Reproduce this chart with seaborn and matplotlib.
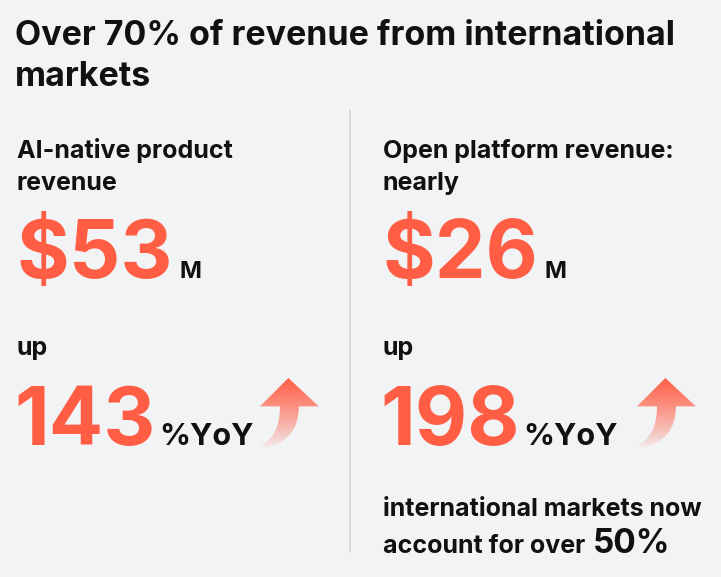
import numpy as np
import matplotlib.pyplot as plt
import seaborn as sns
from matplotlib.path import Path
from matplotlib.patches import PathPatch
from matplotlib.colors import to_rgb

# content
TITLE_LINES = ["Over 70% of revenue from international", "markets"]
PANEL_LABELS = [["AI-native product", "revenue"], ["Open platform revenue:", "nearly"]]
REVENUE = ["$53", "$26"]
REVENUE_UNIT = "M"
GROWTH_LABEL = "up"
GROWTH_YOY = [143, 198]
GROWTH_UNIT = "%YoY"
NOTE_LINES = ["international markets now", "account for over "]
NOTE_SHARE = "50%"

BG = "#f2f3f5"
ACCENT = "#ff5e45"
INK = "#111111"
FONT = ["Inter", "DejaVu Sans"]

sns.set_theme(style="white")
plt.rcParams["font.family"] = FONT

fig = plt.figure(figsize=(7.21, 5.77), dpi=100)
fig.patch.set_facecolor(BG)
ax = fig.add_axes([0, 0, 1, 1])
ax.set_facecolor(BG)
ax.set_xlim(0, 721)
ax.set_ylim(577, 0)
ax.axis("off")

renderer = fig.canvas.get_renderer()


def right_edge(t):
    bb = t.get_window_extent(renderer=renderer)
    return ax.transData.inverted().transform((bb.x1, bb.y0))[0]


def arrow(x0, y0, s=1.0):
    # curved up arrow with a fading fill
    pts = [(27, 0), (56, 27), (37, 27),
           (37, 50), (25, 62), (5, 67),
           (1, 64),
           (12, 58), (19, 48), (19, 27),
           (0, 27), (27, 0)]
    codes = [Path.MOVETO, Path.LINETO, Path.LINETO,
             Path.CURVE4, Path.CURVE4, Path.CURVE4,
             Path.LINETO,
             Path.CURVE4, Path.CURVE4, Path.CURVE4,
             Path.LINETO, Path.CLOSEPOLY]
    verts = [(x0 + px * s, y0 + py * s) for px, py in pts]
    patch = PathPatch(Path(verts, codes), facecolor="none", edgecolor="none")
    ax.add_patch(patch)
    h = 68 * s
    grad = np.zeros((100, 1, 4))
    grad[..., :3] = to_rgb(ACCENT)
    grad[:, 0, 3] = np.linspace(1.0, 0.0, 100) ** 0.8
    im = ax.imshow(grad, extent=(x0, x0 + 57 * s, y0 + h, y0),
                   aspect="auto", interpolation="bilinear", zorder=3)
    im.set_clip_path(patch)


# title
for i, line in enumerate(TITLE_LINES):
    ax.text(15, 45 + i * 41, line, fontsize=24.5, fontweight="bold", color=INK, va="baseline")

# divider
ax.plot([350, 350], [110, 552], color="#d4d5d8", lw=1.2)

for col, (x, ax_x) in enumerate([(17, 260), (383, 637)]):
    for i, line in enumerate(PANEL_LABELS[col]):
        ax.text(x, 158 + i * 32, line, fontsize=18, fontweight="bold", color=INK, va="baseline")

    big = ax.text(x - 1, 278, REVENUE[col], fontsize=58, fontweight="bold",
                  color=ACCENT, va="baseline")
    ax.text(right_edge(big) + 7, 278, REVENUE_UNIT, fontsize=17, fontweight="bold",
            color=INK, va="baseline")

    ax.text(x, 355, GROWTH_LABEL, fontsize=18, fontweight="bold", color=INK, va="baseline")

    pct = ax.text(x - 3, 445, str(GROWTH_YOY[col]), fontsize=58, fontweight="bold",
                  color=ACCENT, va="baseline")
    ax.text(right_edge(pct) + 4, 445, GROWTH_UNIT, fontsize=22, fontweight="bold",
            color=INK, va="baseline")
    arrow(ax_x, 378, s=1.05)

# note under the right panel
ax.text(383, 516, NOTE_LINES[0], fontsize=18, fontweight="bold", color=INK, va="baseline")
lead = ax.text(383, 553, NOTE_LINES[1], fontsize=18, fontweight="bold", color=INK, va="baseline")
ax.text(right_edge(lead) + 2, 553, NOTE_SHARE, fontsize=24, fontweight="bold",
        color=INK, va="baseline")

fig.savefig("out.png", dpi=100, facecolor=BG)
